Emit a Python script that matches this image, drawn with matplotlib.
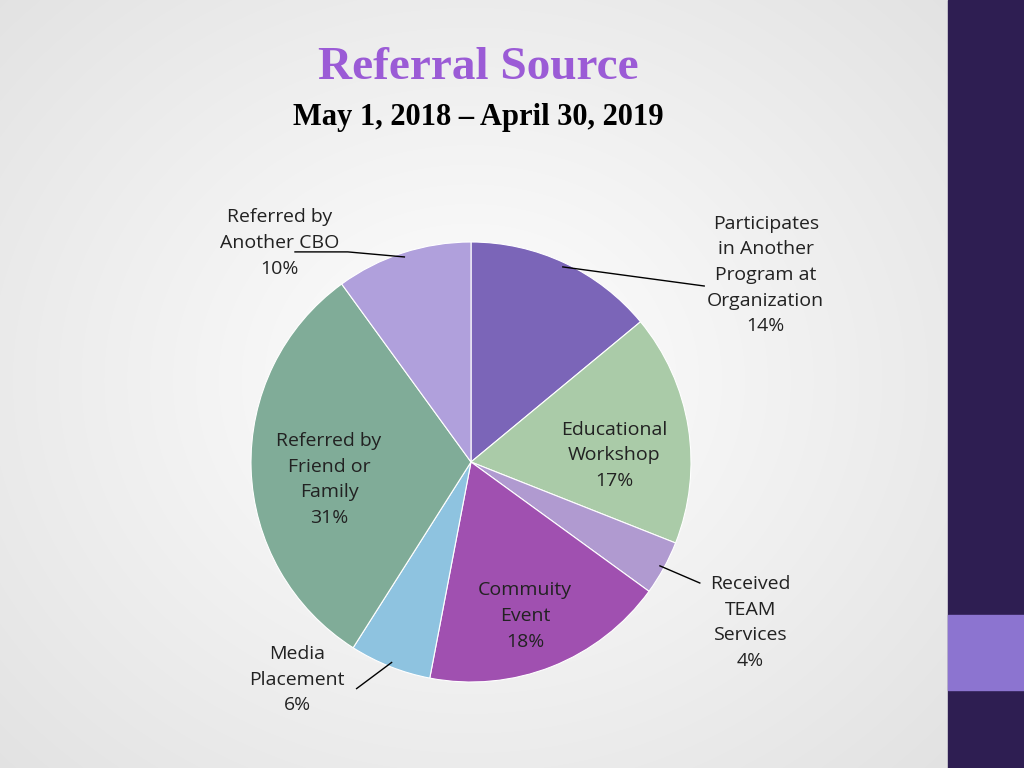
import numpy as np
import matplotlib
matplotlib.use("Agg")
import matplotlib.pyplot as plt

labels = ["Participates\nin Another\nProgram at\nOrganization\n14%",
          "Educational\nWorkshop\n17%",
          "Received\nTEAM\nServices\n4%",
          "Commuity\nEvent\n18%",
          "Media\nPlacement\n6%",
          "Referred by\nFriend or\nFamily\n31%",
          "Referred by\nAnother CBO\n10%"]
values = [14, 17, 4, 18, 6, 31, 10]
colors = ["#7B65B8", "#AACBA8", "#B09AD0", "#A050B0", "#8EC3E0", "#80AC98", "#B0A0DC"]
label_pos = [(1.34, 0.85), (0.65, 0.03), (1.27, -0.73), (0.245, -0.70),
             (-0.79, -0.99), (-0.645, -0.08), (-0.87, 0.995)]

fig = plt.figure(figsize=(10.24, 7.68), dpi=100)
bg = fig.add_axes([0, 0, 1, 1])
yy, xx = np.mgrid[0:768, 0:1024]
d = np.sqrt(((xx - 470) / 700) ** 2 + ((yy - 380) / 600) ** 2)
g = 1 - 0.12 * np.clip(d, 0, 1)
bg.imshow(np.dstack([g, g, g]), extent=[0, 1024, 0, 768], origin="upper", aspect="auto")
bg.add_patch(plt.Rectangle((948, 0), 76, 768, color="#2E1E52"))
bg.add_patch(plt.Rectangle((948, 78), 76, 75, color="#8C74D0"))
bg.set_xlim(0, 1024); bg.set_ylim(0, 768); bg.axis("off")

fig.text(478/1024, 1 - 68/768, "Referral Source", ha="center", va="center",
         fontsize=34, fontweight="bold", color="#9B5BD6", family="Liberation Serif")
fig.text(478/1024, 1 - 118/768, "May 1, 2018 \u2013 April 30, 2019", ha="center", va="center",
         fontsize=22, fontweight="bold", color="black", family="Liberation Serif")

ax = fig.add_axes([(471 - 220) / 1024, (768 - 682) / 768, 440 / 1024, 440 / 768])
ax.pie(values, colors=colors, startangle=90, counterclock=False, radius=1,
       wedgeprops=dict(edgecolor="white", linewidth=0.8))
ax.set_xlim(-1, 1); ax.set_ylim(-1, 1); ax.set_aspect("equal")
ax.set_clip_on(False)
for t, (x, y) in zip(labels, label_pos):
    ax.text(x, y, t, ha="center", va="center", fontsize=14, family="Open Sans",
            linespacing=1.55, color="#222222", clip_on=False)

# leader lines from wedge midpoints
ang = 90 - (np.cumsum(values) - np.array(values) / 2) / sum(values) * 360
def mid(i, r=1.0):
    a = np.deg2rad(ang[i]); return r * np.cos(a), r * np.sin(a)
lines = {0: [(1.06, 0.80)], 2: [(1.04, -0.55)], 4: [(-0.52, -1.03)], 6: [(-0.56, 0.955), (-0.80, 0.955)]}
for i, pts in lines.items():
    x0, y0 = mid(i, 0.98)
    xs = [x0] + [p[0] for p in pts]; ys = [y0] + [p[1] for p in pts]
    ax.plot(xs, ys, color="black", lw=1, clip_on=False)

fig.savefig("out.png", dpi=100)
